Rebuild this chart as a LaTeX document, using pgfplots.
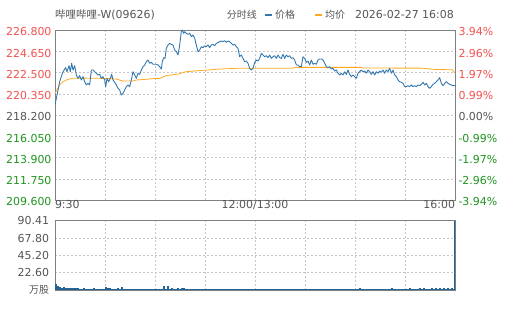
\documentclass[border=0pt]{standalone}
\usepackage{pgfplots}
\pgfplotsset{compat=1.18}
\usepackage{fontspec}
\setmainfont{DejaVu Sans}
\newfontfamily\cjk{Noto Sans CJK SC}
\definecolor{cred}{RGB}{245,80,80}
\definecolor{cgreen}{RGB}{30,150,30}
\definecolor{cgray}{RGB}{85,85,85}
\definecolor{cblue}{RGB}{50,120,175}
\definecolor{cvol}{RGB}{35,100,150}
\definecolor{corange}{RGB}{255,170,30}
\pgfplotsset{
  base/.style={
    scale only axis, width=400bp,
    xmin=0, xmax=400,
    axis line style={draw=black!50, line width=0.9pt},
    major tick length=0pt, tick style={draw=none},
    major grid style={dash pattern=on 2bp off 2bp, draw=black!22, line width=0.5pt},
    tick label style={font=\fontsize{11}{12}\selectfont},
  }
}
\begin{document}
\begin{tikzpicture}[x=1bp,y=1bp]
\useasboundingbox (0,0) rectangle (505,310);
% main price panel
\begin{axis}[base, at={(55bp,110bp)}, anchor=south west, height=170bp,
  ymin=209.6, ymax=226.8, grid=major,
  xtick={0,50,...,400},
  xticklabels={\makebox[0pt][l]{9:30},,,,12:00/13:00,,,,\makebox[0pt][r]{16:00}},
  xticklabel style={yshift=3bp, text=cgray},
  ytick={209.6,211.75,213.9,216.05,218.2,220.35,222.5,224.65,226.8},
  yticklabels={{\color{cgreen}209.600},{\color{cgreen}211.750},{\color{cgreen}213.900},{\color{cgreen}216.050},{\color{cgray}218.200},{\color{cred}220.350},{\color{cred}222.500},{\color{cred}224.650},{\color{cred}226.800}},
  yticklabel style={yshift=-2bp},
]
\addplot[corange, line width=0.8pt] coordinates {
(0,220.39) (4.67,221.24) (8,221.57) (13,221.81) (18,221.91) (30,221.93) (45,221.91) (55,221.88) (61,221.84) (68,221.64) (78,221.64) (81,221.74) (90,221.80) (98,221.88) (105,221.91) (111,222.18) (124,222.35) (128,222.50) (131,222.58) (148,222.72) (165,222.85) (181,222.92) (201,222.94) (238,222.93) (240,223.02) (306,223.02) (308,222.95) (366,222.94) (375,222.86) (381,222.80) (397,222.78) (400,222.45)
};
\addplot[cblue, line width=0.9pt, line join=round] coordinates {
(0,219.20) (4.67,221.57) (8,222.58) (10.67,222.99) (12,222.58) (14,223.19) (15.33,222.58) (16.67,223.43) (18,222.75) (19.67,223.19) (21.33,222.25) (23,221.91) (24.67,222.18) (26.33,221.74) (28,222.08) (29.67,221.57) (31.33,221.24) (33,221.40) (34.67,221.24) (36.33,222.75) (38,222.75) (39.67,222.58) (41.33,222.42) (43,222.25) (44.67,222.31) (46.33,221.91) (48,222.08) (49.67,221.74) (50.67,221.07) (52,221.91) (53.67,221.57) (55.33,221.91) (56.67,222.31) (58,221.74) (59.67,221.51) (61.33,221.24) (63,220.90) (64.67,220.73) (66.33,220.22) (68,220.39) (69.67,220.73) (71.33,221.07) (73,221.24) (74.67,221.07) (76.33,221.74) (78,222.58) (79.67,222.25) (81.33,221.91) (83,222.42) (84.67,222.31) (86.33,222.75) (88,223.09) (89.67,223.26) (91.33,223.60) (93,223.77) (94.67,223.43) (96.33,223.53) (98,223.33) (99.67,223.33) (101.33,223.33) (103,223.26) (104.67,223.09) (106.33,222.85) (107.33,223.60) (108.67,224.00) (110,223.93) (111.33,224.95) (113,225.28) (114.67,225.45) (116.33,225.35) (118,225.28) (119.67,224.78) (121.33,224.61) (123,224.27) (124.67,225.28) (126.33,226.63) (127.33,226.80) (128.67,226.46) (129.67,226.63) (131.33,226.46) (133,226.36) (134.67,226.46) (136.33,226.13) (138,226.29) (139.67,225.96) (141.33,225.28) (143,224.61) (144.67,224.78) (146.33,225.11) (148,225.01) (149.67,225.21) (151.33,225.11) (153,225.28) (154.67,225.01) (156.33,225.28) (158,225.35) (159.67,225.21) (161.33,225.45) (164.67,225.62) (166.33,225.69) (168,225.62) (169.67,225.72) (171.33,225.55) (173,225.69) (174.67,225.62) (176.33,225.45) (178,225.28) (179.67,225.35) (181.33,225.11) (183,224.95) (184.67,224.10) (186.33,224.27) (188,223.93) (189.67,223.60) (191.33,223.66) (193,223.43) (194.67,222.92) (196.33,222.75) (198,222.92) (199.67,223.50)
(201.33,223.77) (203,223.66) (204.67,223.93) (206.33,224.44) (208,224.27) (209.67,224.10) (211.33,224.20) (213,224.00) (214.67,224.27) (216.33,223.93) (218,224.10) (219.67,224.20) (221.33,223.93) (223,224.27) (224.67,224.00) (226.33,223.93) (228,224.34) (229.67,223.93) (231.33,224.27) (233,224.10) (234.67,224.20) (236.33,223.93) (238,224.00) (239.67,223.77) (241.33,223.26) (243,223.26) (244.67,223.09) (246.33,223.09) (248,224.10) (249.67,223.93) (251.33,223.53) (253,223.66) (254.67,223.26) (256.33,223.77) (258,223.33) (259.67,223.43) (261.33,223.33) (263,223.77) (264.67,223.87) (266.33,223.87) (268,223.77) (269.67,223.43) (271.33,223.09) (273,222.99) (274.67,223.09) (276.33,222.85) (278,222.92) (279.67,222.65) (281.33,222.75) (283,222.42) (284.67,222.25) (286.33,222.42) (288,222.25) (289.67,222.58) (291.33,222.31) (293,222.75) (294.67,222.31) (296.33,222.08) (298,222.25)
(299.67,222.08) (301.33,221.91) (303,222.42) (304.67,222.58) (306.33,222.75) (308,222.58) (309.67,222.65) (311.33,222.42) (313,222.75) (314.67,222.58) (316.33,222.31) (318,222.58) (319.67,222.25) (321.33,222.58) (323,222.42) (324.67,222.65) (326.33,222.52) (328,222.75) (329.67,222.42) (331.33,222.75) (333,222.58) (334.67,222.92) (336.33,222.42) (338,222.75) (339.67,222.25) (341.33,222.08) (343,221.74) (344.67,221.57) (346.33,221.51) (348,221.40) (349.67,221.07) (351.33,221.07) (353,221.17) (354.67,221.07) (356.33,221.24) (358,221.07) (359.67,221.17) (361.33,221.07) (363,221.24) (364.67,221.17) (366.33,221.30) (368,221.51) (369.67,221.24) (371.33,221.40) (373,221.07) (374.67,220.90) (376.33,221.07) (378,221.30) (379.67,221.40) (381.33,221.57) (383,221.74) (384.67,221.98) (386.33,221.40) (388,221.17) (389.67,221.40) (391.33,221.57) (393,221.40) (394.67,221.30) (396.33,221.24) (398,221.17) (400,221.17)
};
\end{axis}
% right percentage labels
\begin{axis}[base, at={(55bp,110bp)}, anchor=south west, height=170bp,
  ymin=209.6, ymax=226.8, axis y line*=right, axis x line=none,
  ytick={209.6,211.75,213.9,216.05,218.2,220.35,222.5,224.65,226.8},
  yticklabels={{\color{cgreen}-3.94\%},{\color{cgreen}-2.96\%},{\color{cgreen}-1.97\%},{\color{cgreen}-0.99\%},{\color{cgray}0.00\%},{\color{cred}0.99\%},{\color{cred}1.97\%},{\color{cred}2.96\%},{\color{cred}3.94\%}},
  yticklabel style={yshift=-2bp},
]
\addplot[draw=none] coordinates {(0,218.2) (400,218.2)};
\end{axis}
% volume panel
\begin{axis}[base, at={(55bp,20bp)}, anchor=south west, height=69.3bp,
  ymin=0, ymax=90.41, grid=major,
  xtick={0,50,...,400}, xticklabels={},
  ytick={0,22.6,45.2,67.8,90.41},
  yticklabels={{\cjk\fontsize{10}{11}\selectfont 万股},22.60,45.20,67.80,90.41},
  yticklabel style={text=cgray, xshift=-2.5bp},
]
\addplot[ycomb, cvol, line width=1.1pt] coordinates {
(1,7.8) (3,5.0) (5,4.2) (7,3.0) (9,4.0) (11,3.2) (13,2.4) (15,3.0) (17,2.0) (19,2.2) (21,3.0) (23,2.0) (25,1.6) (27,1.8) (29,2.4) (31,1.5) (33,1.8) (35,1.4) (37,1.6) (39,2.6) (41,1.5) (43,1.8) (45,1.3) (47,1.5) (49,1.2) (51,4.2) (53,2.0) (55,2.8) (57,1.5) (59,1.8) (61,1.4) (63,2.2) (65,1.6) (67,4.5) (69,1.5) (71,1.3) (73,1.6) (75,1.2) (77,1.4) (79,1.1) (81,1.3) (83,1.0) (85,1.2) (87,1.4) (89,1.0) (91,1.2) (93,1.0) (95,1.5) (97,1.1) (99,1.2)
(101,1.0) (103,1.1) (105,1.0) (107,1.2) (109,5.6) (111,1.3) (113,5.2) (115,1.2) (117,2.4) (119,1.0) (121,1.1) (123,2.0) (125,1.2) (127,3.0) (129,2.2) (131,1.2) (133,1.5) (135,1.0) (137,0.9) (139,1.0) (141,0.9) (143,1.0) (145,0.9) (147,1.0) (149,0.8) (151,0.9) (153,0.8) (155,0.9) (157,0.8) (159,0.9) (161,0.8) (163,0.9) (165,1.5) (167,0.8) (169,0.9) (171,0.8) (173,0.8) (175,0.9) (177,0.8) (179,0.8) (181,0.9) (183,1.5) (185,0.8) (187,0.9) (189,0.8) (191,0.8) (193,0.9) (195,0.8) (197,1.5) (199,0.8)
(201,0.9) (203,0.8) (205,0.8) (207,0.9) (209,0.8) (211,0.8) (213,0.9) (215,0.8) (217,0.8) (219,0.9) (221,0.8) (223,0.8) (225,0.9) (227,0.8) (229,0.8) (231,0.9) (233,0.8) (235,0.8) (237,0.9) (239,0.8) (241,0.8) (243,0.9) (245,0.8) (247,0.8) (249,0.9) (251,0.8) (253,0.8) (255,0.9) (257,0.8) (259,0.8) (261,0.9) (263,0.8) (265,0.8) (267,0.9) (269,0.8) (271,0.8) (273,0.9) (275,0.8) (277,0.8) (279,0.9) (281,0.8) (283,0.8) (285,0.9) (287,1.6) (289,0.8) (291,0.9) (293,0.8) (295,0.8) (297,0.9) (299,0.8)
(301,0.8) (303,0.9) (305,2.0) (307,0.9) (309,0.8) (311,0.9) (313,0.8) (315,0.9) (317,0.8) (319,0.9) (321,0.8) (323,0.9) (325,0.8) (327,0.9) (329,0.8) (331,1.0) (333,0.9) (335,1.6) (337,3.0) (339,1.0) (341,0.9) (343,1.1) (345,0.9) (347,1.0) (349,1.1) (351,1.8) (353,1.0) (355,2.0) (357,1.1) (359,1.0) (361,1.2) (363,1.0) (365,3.0) (367,1.2) (369,2.0) (371,1.1) (373,1.0) (375,1.4) (377,3.0) (379,1.2) (381,2.2) (383,1.5) (385,2.6) (387,1.3) (389,3.0) (391,1.5) (393,3.2) (395,1.4) (397,2.2) (399,1.3) (400,90.41)
};
\end{axis}
% header
\node[anchor=west, text=cgray, inner sep=0pt, font=\fontsize{11}{12}\selectfont] at (55,295) {{\cjk\fontsize{10.5}{12}\selectfont 哔哩哔哩}-W(09626)};
\node[anchor=east, text=cgray, inner sep=0pt] at (257,295) {\cjk\fontsize{10}{12}\selectfont 分时线};
\draw[cblue, line width=1.8pt] (265,295) -- (272,295);
\node[anchor=west, text=cgray, inner sep=0pt] at (275,295) {\cjk\fontsize{10}{12}\selectfont 价格};
\draw[corange, line width=1.8pt] (315,295) -- (322,295);
\node[anchor=west, text=cgray, inner sep=0pt] at (325,295) {\cjk\fontsize{10}{12}\selectfont 均价};
\node[anchor=east, text=cgray, inner sep=0pt, font=\fontsize{11}{12}\selectfont] at (454,295) {2026-02-27 16:08};
\end{tikzpicture}
\end{document}
